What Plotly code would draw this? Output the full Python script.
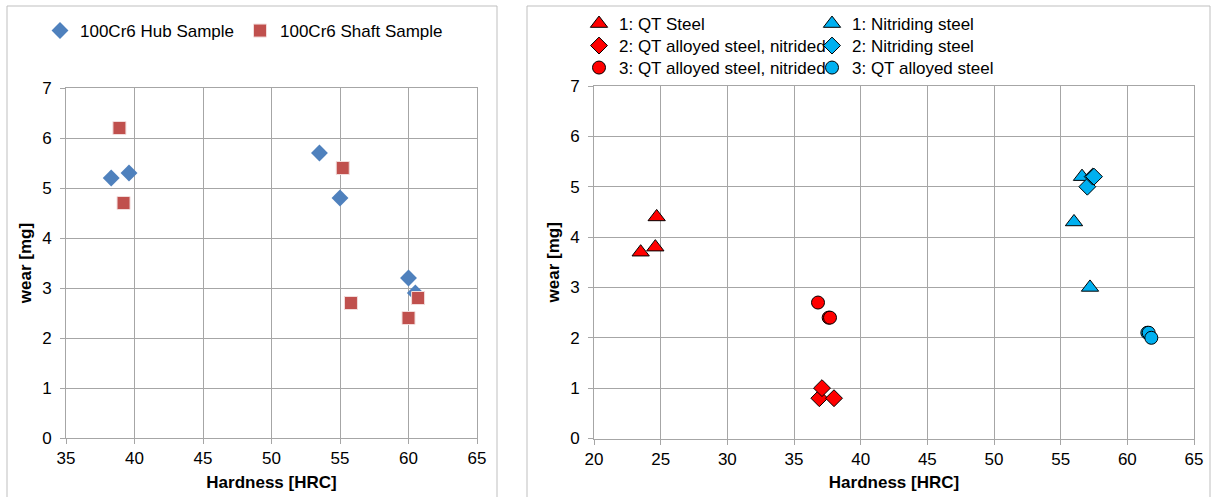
import plotly.graph_objects as go

# ---- Left chart data ----
hub_x = [38.3, 39.6, 53.5, 55.0, 60.0, 60.5]
hub_y = [5.2, 5.3, 5.7, 4.8, 3.2, 2.9]
shaft_x = [38.9, 39.2, 55.2, 55.8, 60.0, 60.7]
shaft_y = [6.2, 4.7, 5.4, 2.7, 2.4, 2.8]

# ---- Right chart data ----
qt1_x = [23.5, 24.6, 24.7]
qt1_y = [3.7, 3.8, 4.4]
qt2_x = [36.9, 37.1, 38.0]
qt2_y = [0.8, 1.0, 0.8]
qt3_x = [36.8, 37.6, 37.7]
qt3_y = [2.7, 2.4, 2.4]
ni1_x = [56.0, 56.6, 57.2]
ni1_y = [4.3, 5.2, 3.0]
ni2_x = [57.0, 57.4, 57.5]
ni2_y = [5.0, 5.2, 5.2]
ni3_x = [61.5, 61.6, 61.8]
ni3_y = [2.1, 2.1, 2.0]

W, H = 1214, 497
FONT = "Liberation Sans, Arial, sans-serif"
GRID = "#A6A6A6"
RED = "#FF0000"
CYAN = "#00B0F0"

fig = go.Figure()
leg_font = dict(size=17, family=FONT, color="black")
legends = {}


def add_legend(key, text_x, row_y):
    legends[key] = dict(orientation="v", x=(text_x - 40) / W, y=1 - row_y / H,
                        xanchor="left", yanchor="middle", itemwidth=30,
                        font=leg_font, bgcolor="rgba(0,0,0,0)", visible=True)


fig.add_trace(go.Scatter(x=hub_x, y=hub_y, mode="markers", name="100Cr6 Hub Sample",
                         marker=dict(symbol="diamond", size=13, color="#4F81BD"),
                         xaxis="x", yaxis="y", legend="legend", showlegend=True))
add_legend("legend", 80, 31)
fig.add_trace(go.Scatter(x=shaft_x, y=shaft_y, mode="markers", name="100Cr6 Shaft Sample",
                         marker=dict(symbol="square", size=13, color="#C0504D",
                                     line=dict(color="#F2DCDB", width=1)),
                         xaxis="x", yaxis="y", legend="legend2", showlegend=True))
add_legend("legend2", 280, 31)

line = dict(color="black", width=1)
right_series = [
    (qt1_x, qt1_y, "1: QT Steel", "triangle-up", RED, 15, 619, 24),
    (ni1_x, ni1_y, "1: Nitriding steel", "triangle-up", CYAN, 15, 852, 24),
    (qt2_x, qt2_y, "2: QT alloyed steel, nitrided", "diamond", RED, 13, 619, 46),
    (ni2_x, ni2_y, "2: Nitriding steel", "diamond", CYAN, 13, 852, 46),
    (qt3_x, qt3_y, "3: QT alloyed steel, nitrided", "circle", RED, 13, 619, 68),
    (ni3_x, ni3_y, "3: QT alloyed steel", "circle", CYAN, 13, 852, 68),
]
for i, (xs, ys, nm, sym, col, sz, tx, ty) in enumerate(right_series):
    key = "legend%d" % (i + 3)
    fig.add_trace(go.Scatter(x=xs, y=ys, mode="markers", name=nm,
                             marker=dict(symbol=sym, size=sz, color=col, line=line),
                             xaxis="x2", yaxis="y2", legend=key, showlegend=True))
    add_legend(key, tx, ty)

axis_style = dict(showgrid=True, gridcolor=GRID, gridwidth=1, showline=True, linecolor=GRID,
                  linewidth=1, mirror=True, ticks="outside", ticklen=5, tickcolor=GRID,
                  zeroline=False, automargin=False,
                  tickfont=dict(size=17, color="black", family=FONT))
title_font = dict(size=17, color="black", family=FONT, weight="bold")

fig.update_layout(
    template="none", showlegend=True,
    width=W, height=H, margin=dict(l=0, r=0, t=0, b=0, autoexpand=False),
    paper_bgcolor="white", plot_bgcolor="white",
    font=dict(family=FONT, size=17, color="black"),
    xaxis=dict(domain=[66 / W, 477 / W], range=[35, 65], dtick=5, anchor="y",
               title=dict(text="Hardness [HRC]", font=title_font, standoff=8), **axis_style),
    yaxis=dict(domain=[59 / H, 409 / H], range=[0, 7], dtick=1, anchor="x", ticklabelstandoff=5,
               title=dict(text="wear [mg]", font=title_font, standoff=6), **axis_style),
    xaxis2=dict(domain=[594 / W, 1194 / W], range=[20, 65], dtick=5, anchor="y2",
                title=dict(text="Hardness [HRC]", font=title_font, standoff=8), **axis_style),
    yaxis2=dict(domain=[58.5 / H, 411 / H], range=[0, 7], dtick=1, anchor="x2", ticklabelstandoff=5,
                title=dict(text="wear [mg]", font=title_font, standoff=6), **axis_style),
    shapes=[
        dict(type="rect", xref="paper", yref="paper", x0=7 / W, x1=497 / W, y0=-0.01, y1=1 - 6 / H,
             line=dict(color="#BFBFBF", width=1), layer="below"),
        dict(type="rect", xref="paper", yref="paper", x0=527 / W, x1=1210 / W, y0=-0.01, y1=1 - 6 / H,
             line=dict(color="#BFBFBF", width=1), layer="below"),
    ],
    **legends,
)

fig.write_html("out.html")
